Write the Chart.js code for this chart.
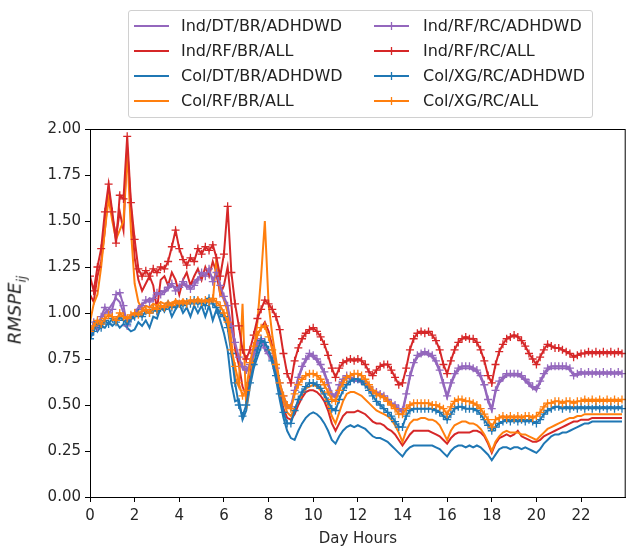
<!DOCTYPE html>
<html lang="en">
<head>
    <meta charset="UTF-8">
    <title>RMSPE by day hour</title>
    <script src="https://cdn.jsdelivr.net/npm/chart.js"></script>
    <style>
        body { margin: 0; background: #fff; font-family: 'DejaVu Sans', sans-serif; }
        #wrap { position: relative; width: 631px; height: 548px; }
        #legend {
            position: absolute; left: 128px; top: 10px; width: 463px; height: 106px;
            border: 1px solid #d0d0d0; border-radius: 3px; background: rgba(255,255,255,0.8);
            color: #222; font-size: 16px;
        }
        .item { position: absolute; height: 20px; line-height: 20px; white-space: nowrap; }
        .item svg { position: absolute; left: 0; top: 0; }
        .item span { position: absolute; top: 0; }
        #ylab {
            position: absolute; left: 16px; top: 310px; color: #222;
            font-size: 18px; white-space: nowrap;
            transform: translate(-50%, -50%) rotate(-90deg);
        }
        #ylab sub { font-size: 12px; }
    </style>
</head>
<body>
<div id="wrap">
    <canvas id="myChart" width="631" height="548"></canvas>
    <div id="legend"></div>
    <div id="ylab"><i>RMSPE</i><sub><i>ij</i></sub></div>
</div>
<script>
    // 10 minute steps over the day
    const hours = Array.from({length: 144}, (_, i) => i / 6);
    const xTicks = [0, 2, 4, 6, 8, 10, 12, 14, 16, 18, 20, 22];

    const seriesNames = ['Ind/DT/BR/ADHDWD', 'Ind/RF/BR/ALL', 'Col/DT/BR/ADHDWD', 'Col/RF/BR/ALL',
        'Ind/RF/RC/ADHDWD', 'Ind/RF/RC/ALL', 'Col/XG/RC/ADHDWD', 'Col/XG/RC/ALL'];

    const indDtBr = [
        0.90, 0.93, 0.95, 0.97, 1.00, 1.02, 1.05, 1.08, 1.06, 1.00, 0.95, 0.98,
        1.00, 1.03, 1.05, 1.06, 1.08, 1.07, 1.10, 1.12, 1.11, 1.13, 1.15, 1.14,
        1.15, 1.16, 1.14, 1.15, 1.17, 1.19, 1.20, 1.21, 1.22, 1.19, 1.20, 1.13,
        1.07, 1.02, 0.91, 0.82, 0.74, 0.70, 0.68, 0.71, 0.77, 0.83, 0.85, 0.80,
        0.77, 0.74, 0.69, 0.61, 0.54, 0.49, 0.48, 0.57, 0.64, 0.70, 0.74, 0.77,
        0.76, 0.74, 0.71, 0.67, 0.61, 0.55, 0.54, 0.60, 0.63, 0.65, 0.64, 0.63,
        0.63, 0.62, 0.61, 0.59, 0.57, 0.56, 0.55, 0.54, 0.52, 0.50, 0.49, 0.47,
        0.46, 0.55, 0.65, 0.72, 0.76, 0.77, 0.78, 0.77, 0.76, 0.73, 0.68, 0.61,
        0.54, 0.61, 0.66, 0.69, 0.70, 0.70, 0.70, 0.69, 0.68, 0.65, 0.60, 0.52,
        0.47, 0.57, 0.62, 0.64, 0.66, 0.66, 0.66, 0.66, 0.65, 0.63, 0.61, 0.59,
        0.58, 0.62, 0.66, 0.69, 0.70, 0.70, 0.70, 0.70, 0.70, 0.69, 0.66, 0.66,
        0.67, 0.67, 0.67, 0.67, 0.67, 0.67, 0.67, 0.67, 0.67, 0.67, 0.67, 0.67
    ];
    const indRfBr = [
        1.10, 1.06, 1.20, 1.28, 1.45, 1.68, 1.52, 1.42, 1.55, 1.45, 1.90, 1.58,
        1.30, 1.18, 1.12, 1.16, 1.20, 1.15, 1.02, 1.18, 1.20, 1.15, 1.22, 1.18,
        1.10, 1.18, 1.22, 1.15, 1.20, 1.24, 1.18, 1.25, 1.20, 1.28, 1.22, 1.10,
        1.15, 1.25, 1.05, 0.80, 0.72, 0.60, 0.55, 0.65, 0.80, 0.88, 0.92, 0.95,
        0.90, 0.82, 0.70, 0.58, 0.48, 0.43, 0.42, 0.45, 0.50, 0.54, 0.57, 0.58,
        0.58, 0.57, 0.55, 0.52, 0.47, 0.40, 0.36, 0.40, 0.44, 0.46, 0.46, 0.46,
        0.47, 0.46, 0.45, 0.43, 0.41, 0.40, 0.40, 0.39, 0.37, 0.36, 0.34, 0.31,
        0.28, 0.31, 0.34, 0.36, 0.36, 0.36, 0.36, 0.36, 0.35, 0.34, 0.33, 0.31,
        0.29, 0.32, 0.34, 0.35, 0.35, 0.35, 0.35, 0.36, 0.36, 0.35, 0.33, 0.29,
        0.24, 0.29, 0.32, 0.33, 0.34, 0.33, 0.34, 0.36, 0.33, 0.32, 0.31, 0.30,
        0.30, 0.31, 0.33, 0.34, 0.35, 0.36, 0.37, 0.38, 0.39, 0.40, 0.41, 0.41,
        0.42, 0.42, 0.42, 0.43, 0.43, 0.43, 0.43, 0.43, 0.43, 0.43, 0.43, 0.43
    ];
    const colDtBr = [
        0.85, 0.95, 0.90, 0.93, 0.92, 0.95, 0.93, 0.95, 0.92, 0.94, 0.92, 0.90,
        0.91, 0.95, 0.93, 0.96, 0.92, 0.98, 0.97, 1.03, 1.01, 1.04, 0.98, 1.02,
        1.05, 1.00, 1.03, 0.98, 1.04, 1.00, 1.04, 0.98, 1.04, 0.96, 1.02, 0.96,
        0.89, 0.80, 0.62, 0.52, 0.53, 0.42, 0.47, 0.60, 0.70, 0.76, 0.82, 0.84,
        0.80, 0.73, 0.64, 0.53, 0.43, 0.36, 0.32, 0.31, 0.36, 0.40, 0.43, 0.45,
        0.46, 0.45, 0.43, 0.40, 0.36, 0.31, 0.29, 0.33, 0.36, 0.38, 0.39, 0.38,
        0.39, 0.38, 0.37, 0.35, 0.33, 0.32, 0.32, 0.31, 0.30, 0.28, 0.26, 0.24,
        0.22, 0.25, 0.27, 0.28, 0.28, 0.28, 0.28, 0.28, 0.28, 0.27, 0.26, 0.24,
        0.22, 0.25, 0.27, 0.28, 0.28, 0.27, 0.28, 0.27, 0.28, 0.27, 0.25, 0.23,
        0.20, 0.23, 0.26, 0.27, 0.27, 0.26, 0.27, 0.27, 0.26, 0.27, 0.26, 0.25,
        0.24, 0.26, 0.29, 0.31, 0.33, 0.34, 0.34, 0.35, 0.35, 0.36, 0.37, 0.38,
        0.39, 0.40, 0.40, 0.41, 0.41, 0.41, 0.41, 0.41, 0.41, 0.41, 0.41, 0.41
    ];
    const colRfBr = [
        0.95, 1.05, 1.10, 1.25, 1.45, 1.62, 1.50, 1.40, 1.45, 1.50, 1.88, 1.45,
        1.16, 1.06, 1.02, 1.04, 1.03, 1.05, 1.04, 1.06, 1.05, 1.06, 1.05, 1.07,
        1.06, 1.07, 1.06, 1.07, 1.06, 1.08, 1.06, 1.07, 1.08, 1.06, 1.30, 1.10,
        1.08, 1.00, 0.85, 0.65, 0.60, 1.05, 0.48, 0.62, 0.78, 0.95, 1.20, 1.50,
        1.05, 0.88, 0.75, 0.62, 0.52, 0.46, 0.44, 0.48, 0.52, 0.56, 0.59, 0.60,
        0.61, 0.60, 0.58, 0.55, 0.50, 0.44, 0.40, 0.46, 0.52, 0.56, 0.57, 0.57,
        0.56, 0.55, 0.53, 0.51, 0.49, 0.47, 0.46, 0.45, 0.44, 0.42, 0.39, 0.35,
        0.30, 0.36, 0.40, 0.42, 0.42, 0.43, 0.43, 0.42, 0.42, 0.41, 0.39, 0.35,
        0.31, 0.36, 0.39, 0.40, 0.41, 0.41, 0.40, 0.40, 0.39, 0.37, 0.34, 0.30,
        0.25, 0.30, 0.33, 0.35, 0.36, 0.35, 0.35, 0.35, 0.34, 0.34, 0.33, 0.32,
        0.31, 0.33, 0.35, 0.37, 0.38, 0.39, 0.40, 0.41, 0.42, 0.43, 0.43, 0.44,
        0.44, 0.45, 0.45, 0.45, 0.45, 0.45, 0.45, 0.45, 0.45, 0.45, 0.45, 0.45
    ];
    const indRfRc = [
        0.88, 0.95, 0.92, 0.98, 1.03, 1.00, 1.02, 1.10, 1.11, 1.04, 0.93, 0.97,
        0.99, 1.02, 1.04, 1.07, 1.06, 1.08, 1.11, 1.10, 1.12, 1.14, 1.16, 1.12,
        1.14, 1.17, 1.15, 1.13, 1.15, 1.18, 1.22, 1.20, 1.24, 1.17, 1.22, 1.15,
        1.09, 1.04, 0.93, 0.84, 0.76, 0.71, 0.69, 0.72, 0.78, 0.84, 0.86, 0.81,
        0.78, 0.75, 0.70, 0.62, 0.55, 0.50, 0.49, 0.58, 0.65, 0.71, 0.75, 0.78,
        0.77, 0.75, 0.72, 0.68, 0.62, 0.56, 0.55, 0.61, 0.64, 0.66, 0.65, 0.64,
        0.64, 0.63, 0.62, 0.60, 0.58, 0.57, 0.56, 0.55, 0.53, 0.51, 0.50, 0.48,
        0.47, 0.56, 0.66, 0.73, 0.77, 0.78, 0.79, 0.78, 0.77, 0.74, 0.69, 0.62,
        0.55, 0.62, 0.67, 0.70, 0.71, 0.71, 0.71, 0.70, 0.69, 0.66, 0.61, 0.53,
        0.48, 0.58, 0.63, 0.65, 0.67, 0.67, 0.67, 0.67, 0.66, 0.64, 0.62, 0.60,
        0.59, 0.63, 0.67, 0.70, 0.71, 0.71, 0.71, 0.71, 0.71, 0.70, 0.66, 0.67,
        0.68, 0.67, 0.68, 0.67, 0.68, 0.67, 0.68, 0.67, 0.68, 0.67, 0.68, 0.67
    ];
    const indRfRcAll = [
        1.20, 1.12, 1.25, 1.35, 1.55, 1.70, 1.55, 1.38, 1.64, 1.62, 1.96, 1.60,
        1.40, 1.24, 1.20, 1.23, 1.20, 1.24, 1.22, 1.25, 1.24, 1.28, 1.36, 1.45,
        1.35, 1.29, 1.26, 1.30, 1.28, 1.35, 1.32, 1.36, 1.34, 1.37, 1.30, 1.20,
        1.32, 1.58, 1.22, 1.05, 0.93, 0.80, 0.75, 0.80, 0.88, 0.97, 1.02, 1.07,
        1.05, 1.02, 0.98, 0.91, 0.78, 0.67, 0.62, 0.74, 0.81, 0.86, 0.89, 0.91,
        0.92, 0.90, 0.87, 0.83, 0.77, 0.70, 0.65, 0.70, 0.73, 0.74, 0.75, 0.74,
        0.75, 0.74, 0.72, 0.68, 0.66, 0.69, 0.71, 0.72, 0.72, 0.69, 0.65, 0.61,
        0.62, 0.70, 0.80, 0.86, 0.89, 0.90, 0.89, 0.90, 0.88, 0.85, 0.80, 0.72,
        0.67, 0.74, 0.80, 0.84, 0.86, 0.87, 0.86, 0.86, 0.84, 0.80, 0.74, 0.66,
        0.62, 0.72, 0.79, 0.83, 0.86, 0.87, 0.88, 0.87, 0.85, 0.82, 0.78, 0.75,
        0.72, 0.76, 0.80, 0.83, 0.82, 0.81, 0.81, 0.80, 0.79, 0.78, 0.76, 0.77,
        0.78, 0.78, 0.79, 0.78, 0.79, 0.78, 0.79, 0.78, 0.79, 0.78, 0.79, 0.78
    ];
    const colXgRc = [
        0.86, 0.90, 0.95, 0.92, 0.96, 0.94, 0.97, 0.95, 0.98, 0.96, 0.94, 0.97,
        0.98, 1.00, 0.98, 1.01, 1.00, 1.02, 1.01, 1.03, 1.02, 1.05, 1.03, 1.04,
        1.05, 1.04, 1.06, 1.05, 1.07, 1.05, 1.06, 1.04, 1.08, 1.05, 1.03, 1.00,
        0.98, 0.92, 0.78, 0.62, 0.50, 0.44, 0.50, 0.62, 0.72, 0.80, 0.85, 0.84,
        0.80, 0.74, 0.66, 0.56, 0.46, 0.40, 0.40, 0.47, 0.53, 0.57, 0.60, 0.62,
        0.62, 0.61, 0.59, 0.56, 0.52, 0.48, 0.47, 0.53, 0.58, 0.61, 0.63, 0.64,
        0.64, 0.63, 0.61, 0.58, 0.55, 0.52, 0.50, 0.48, 0.46, 0.44, 0.41, 0.38,
        0.38, 0.44, 0.47, 0.48, 0.48, 0.48, 0.48, 0.48, 0.48, 0.47, 0.46, 0.44,
        0.42, 0.45, 0.48, 0.49, 0.49, 0.48, 0.48, 0.48, 0.47, 0.45, 0.42, 0.39,
        0.36, 0.38, 0.40, 0.41, 0.42, 0.41, 0.42, 0.41, 0.42, 0.41, 0.42, 0.41,
        0.40, 0.42, 0.45, 0.47, 0.48, 0.49, 0.49, 0.48, 0.49, 0.48, 0.49, 0.48,
        0.49, 0.48, 0.49, 0.48, 0.49, 0.48, 0.49, 0.48, 0.49, 0.48, 0.49, 0.48
    ];
    const colXgRcAll = [
        0.90, 0.93, 0.96, 0.94, 0.97, 0.99, 0.98, 0.96, 1.00, 0.98, 0.97, 0.99,
        1.00, 0.99, 1.01, 1.02, 1.00, 1.03, 1.02, 1.04, 1.03, 1.05, 1.04, 1.06,
        1.05, 1.06, 1.05, 1.07, 1.06, 1.07, 1.06, 1.07, 1.06, 1.08, 1.06, 1.04,
        1.00, 0.95, 0.80, 0.71, 0.62, 0.55, 0.58, 0.73, 0.82, 0.88, 0.92, 0.93,
        0.87, 0.80, 0.72, 0.62, 0.55, 0.50, 0.48, 0.56, 0.61, 0.64, 0.66, 0.67,
        0.67, 0.66, 0.64, 0.61, 0.57, 0.53, 0.52, 0.58, 0.62, 0.65, 0.66, 0.67,
        0.67, 0.66, 0.64, 0.61, 0.58, 0.56, 0.55, 0.54, 0.52, 0.50, 0.48, 0.45,
        0.45, 0.48, 0.50, 0.51, 0.51, 0.51, 0.51, 0.51, 0.50, 0.50, 0.49, 0.48,
        0.45, 0.49, 0.52, 0.53, 0.53, 0.52, 0.52, 0.51, 0.50, 0.48, 0.45, 0.42,
        0.38, 0.42, 0.43, 0.44, 0.43, 0.44, 0.43, 0.44, 0.43, 0.44, 0.44, 0.43,
        0.44, 0.46, 0.49, 0.51, 0.51, 0.52, 0.52, 0.51, 0.52, 0.52, 0.51, 0.52,
        0.52, 0.53, 0.52, 0.53, 0.52, 0.53, 0.52, 0.53, 0.52, 0.53, 0.52, 0.53
    ];

    const allSeries = [indDtBr, indRfBr, colDtBr, colRfBr, indRfRc, indRfRcAll, colXgRc, colXgRcAll];
    const colors = ['#9467bd', '#d62728', '#1f77b4', '#ff7f0e', '#9467bd', '#d62728', '#1f77b4', '#ff7f0e'];
    const hasMarker = [false, false, false, false, true, true, true, true];

    const tickFont = { family: 'DejaVu Sans', size: 15 };
    const textColor = '#262626';

    const datasets = allSeries.map((vals, i) => ({
        label: seriesNames[i],
        data: vals.map((v, j) => ({ x: hours[j], y: v })),
        borderColor: colors[i],
        backgroundColor: colors[i],
        borderWidth: 2,
        pointStyle: 'cross',
        pointRadius: hasMarker[i] ? 4 : 0,
        pointBorderWidth: 1.3,
        pointBorderColor: colors[i],
        tension: 0,
        fill: false,
        order: 7 - i
    }));

    // top and right spines
    const frame = {
        id: 'frame',
        afterDatasetsDraw(chart) {
            const a = chart.chartArea, c = chart.ctx;
            c.save();
            c.strokeStyle = '#000';
            c.lineWidth = 1;
            c.strokeRect(a.left + 0.5, a.top + 0.5, a.right - a.left - 1, a.bottom - a.top);
            c.restore();
        }
    };

    new Chart(document.getElementById('myChart').getContext('2d'), {
        type: 'line',
        data: { datasets: datasets },
        options: {
            responsive: false,
            animation: false,
            layout: { padding: { top: 129, right: 1, left: 0, bottom: 0 } },
            plugins: { legend: { display: false }, tooltip: { enabled: false } },
            scales: {
                x: {
                    type: 'linear', min: 0, max: 24,
                    afterFit: s => { s.height = 51; },
                    afterBuildTicks: s => { s.ticks = xTicks.map(v => ({ value: v })); },
                    grid: { drawOnChartArea: false, tickLength: 5, color: '#000' },
                    border: { color: '#000' },
                    ticks: { font: tickFont, color: textColor, padding: 5, maxRotation: 0 },
                    title: { display: true, text: 'Day Hours', font: tickFont, color: textColor, padding: { top: 0, bottom: 0 } }
                },
                y: {
                    min: 0, max: 2,
                    afterFit: s => { s.width = 90; },
                    grid: { drawOnChartArea: false, tickLength: 5, color: '#000' },
                    border: { color: '#000' },
                    ticks: { stepSize: 0.25, font: tickFont, color: textColor, padding: 4, callback: v => v.toFixed(2) }
                }
            }
        },
        plugins: [frame]
    });

    // legend: two columns, filled column by column
    const legend = document.getElementById('legend');
    seriesNames.forEach((name, i) => {
        const col = Math.floor(i / 4), row = i % 4;
        const item = document.createElement('div');
        item.className = 'item';
        item.style.left = (col === 0 ? 5 : 245) + 'px';
        item.style.top = (5 + row * 25) + 'px';
        const cross = hasMarker[i]
            ? `<line x1="17.5" y1="6" x2="17.5" y2="14" stroke="${colors[i]}" stroke-width="1.3"/><line x1="13.5" y1="10" x2="21.5" y2="10" stroke="${colors[i]}" stroke-width="1.3"/>`
            : '';
        item.innerHTML = `<svg width="35" height="20"><line x1="0" y1="10" x2="35" y2="10" stroke="${colors[i]}" stroke-width="2"/>${cross}</svg><span style="left:${col === 0 ? 47 : 49}px">${name}</span>`;
        legend.appendChild(item);
    });
</script>
</body>
</html>
